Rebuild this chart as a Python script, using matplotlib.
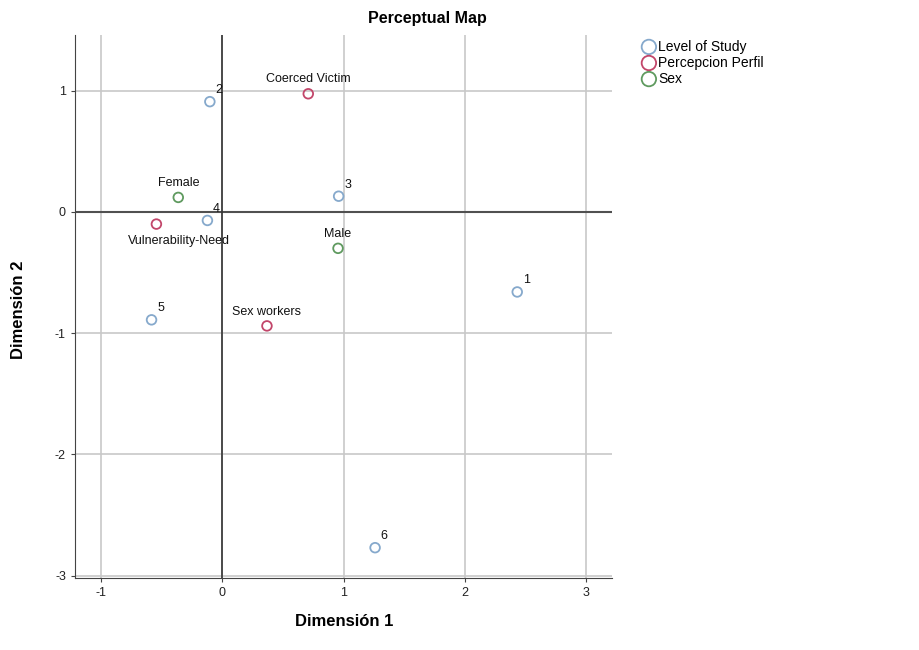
import matplotlib
matplotlib.use("Agg")
import matplotlib.pyplot as plt

plt.rcParams['font.family'] = ['Liberation Sans', 'DejaVu Sans']
plt.rcParams['axes.unicode_minus'] = False

groups = ["Level of Study", "Percepcion Perfil", "Sex"]
colors = {"Level of Study": "#86a9cc", "Percepcion Perfil": "#c2466a", "Sex": "#5f9a5f"}

study_labels = ["1", "2", "3", "4", "5", "6"]
study_x = [2.43, -0.10, 0.96, -0.12, -0.58, 1.26]
study_y = [-0.66, 0.91, 0.13, -0.07, -0.89, -2.77]

perc_labels = ["Coerced Victim", "Vulnerability-Need", "Sex workers"]
perc_x = [0.71, -0.54, 0.37]
perc_y = [0.975, -0.10, -0.94]

sex_labels = ["Female", "Male"]
sex_x = [-0.36, 0.955]
sex_y = [0.12, -0.30]

fig = plt.figure(figsize=(9.2, 6.5), dpi=100)
ax = fig.add_axes([75/920, 1-578/650, (612-75)/920, (578-35)/650])

ax.set_xlim(-1.21, 3.21)
ax.set_ylim(-3.02, 1.46)
ax.set_xticks([-1, 0, 1, 2, 3])
ax.set_yticks([-3, -2, -1, 0, 1])
ax.set_axisbelow(True)
ax.grid(True, color="#c8c8c8", linewidth=1.2)
ax.axhline(0, color="#505050", linewidth=1.5, zorder=2)
ax.axvline(0, color="#333333", linewidth=1.2, zorder=2)
for s in ["top", "right"]:
    ax.spines[s].set_visible(False)
for s in ["left", "bottom"]:
    ax.spines[s].set_color("#444444")
ax.tick_params(labelsize=9, length=3, color="#444444", labelcolor="#222222")

ms = 8
ax.scatter(study_x, study_y, s=ms**2*0.75, facecolors="none", edgecolors=colors["Level of Study"], linewidths=1.3, zorder=3, label="Level of Study")
ax.scatter(perc_x, perc_y, s=ms**2*0.75, facecolors="none", edgecolors=colors["Percepcion Perfil"], linewidths=1.3, zorder=3, label="Percepcion Perfil")
ax.scatter(sex_x, sex_y, s=ms**2*0.75, facecolors="none", edgecolors=colors["Sex"], linewidths=1.3, zorder=3, label="Sex")

for lab, x, y in zip(study_labels, study_x, study_y):
    ax.annotate(lab, (x, y), xytext=(4, 4), textcoords="offset points", fontsize=9, ha="left", va="bottom", color="#111111")
for lab, x, y in zip(perc_labels, perc_x, perc_y):
    ax.annotate(lab, (x, y), xytext=(0, 6), textcoords="offset points", fontsize=9, ha="center", va="bottom", color="#111111")
for lab, x, y in zip(sex_labels, sex_x, sex_y):
    ax.annotate(lab, (x, y), xytext=(0, 6), textcoords="offset points", fontsize=9, ha="center", va="bottom", color="#111111")

for t in ax.texts:
    if t.get_text() == "Vulnerability-Need":
        t.set_position((16, -8))
        t.set_va("top")

fig.text(427/920, 1-18/650, "Perceptual Map", ha="center", va="center", fontsize=11.5, fontweight="bold")
fig.text(344/920, 1-622/650, "Dimensión 1", ha="center", va="center", fontsize=12, fontweight="bold")
fig.text(19/920, 1-310/650, "Dimensión 2", ha="center", va="center", fontsize=12, fontweight="bold", rotation=90)

leg = fig.legend(loc="upper left", bbox_to_anchor=(635/920, 1-34/650), frameon=False, fontsize=10,
                 handletextpad=0.05, borderaxespad=0, labelspacing=0.15, handlelength=1.2, markerscale=1.5)

fig.savefig("out.png", dpi=100)
